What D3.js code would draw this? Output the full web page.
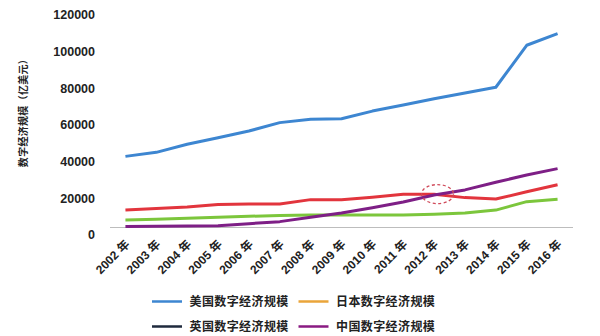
<!DOCTYPE html>
<html>
<head>
<meta charset="utf-8">
<script src="https://cdn.jsdelivr.net/npm/d3@7"></script>
<style>
  html, body { margin: 0; padding: 0; background: #fff; }
  svg { display: block; }
  text { font-family: "Liberation Sans", Arial, "Noto Sans CJK SC", sans-serif; }
  .cjk { font-family: "Noto Sans CJK SC", sans-serif; }
</style>
</head>
<body>
<svg id="chart" width="600" height="336"></svg>
<script>
// Digital economy size, 2002–2016 (100 million USD)
const years = ["2002 年", "2003 年", "2004 年", "2005 年", "2006 年", "2007 年", "2008 年",
               "2009 年", "2010 年", "2011 年", "2012 年", "2013 年", "2014 年", "2015 年", "2016 年"];
const usValues    = [38800, 41000, 45400, 49000, 52600, 57200, 59000, 59300, 63500, 66800, 70200, 73400, 76500, 99400, 105700];
const japanValues = [9500, 10400, 11200, 12600, 12800, 12800, 15200, 15200, 16500, 18100, 18100, 16300, 15500, 19500, 23300];
const ukValues    = [4100, 4500, 5000, 5600, 6100, 6600, 6800, 6800, 6800, 6800, 7200, 7900, 9500, 14100, 15400];
const chinaValues = [500, 700, 850, 1000, 2100, 3200, 5600, 7900, 10800, 13900, 17700, 20500, 24700, 28600, 32100];
const yTicks = [0, 20000, 40000, 60000, 80000, 100000, 120000];
const legendLabels = ["美国数字经济规模", "日本数字经济规模", "英国数字经济规模", "中国数字经济规模"];
const axisTitle = "数字经济规模（亿美元）";

const series = [
  { values: usValues,    line: "#3d86d1" },
  { values: japanValues, line: "#e2353d" },
  { values: ukValues,    line: "#7cc63c" },
  { values: chinaValues, line: "#7e1f86" }
];
const legendSwatches = ["#3d86d1", "#eaa53a", "#1f2a3d", "#8a1a82"];

const svg = d3.select("#chart");

const x = d3.scalePoint().domain(years).range([110, 573]).padding(0.5);
const y = d3.scaleLinear().domain([0, 120000]).range([227.5, 7.5]);

// y tick labels (no axis line, no gridlines)
svg.append("g")
  .selectAll("text")
  .data(yTicks)
  .join("text")
  .attr("x", 95)
  .attr("y", d => y(d) + 7.5)
  .attr("dy", "0.35em")
  .attr("text-anchor", "end")
  .attr("font-size", 12.5)
  .attr("font-weight", "bold")
  .attr("fill", "#222")
  .text(d => d);

// y axis title
svg.append("text")
  .attr("class", "cjk")
  .attr("transform", `translate(23, ${y(60000) - 7}) rotate(-90)`)
  .attr("text-anchor", "middle")
  .attr("dy", "0.35em")
  .attr("font-size", 10)
  .attr("font-weight", "bold")
  .attr("letter-spacing", 0.3)
  .attr("fill", "#222")
  .text(axisTitle);

// baseline
svg.append("line")
  .attr("x1", x.range()[0]).attr("x2", x.range()[1])
  .attr("y1", y(0)).attr("y2", y(0))
  .attr("stroke", "#bdbdbd")
  .attr("stroke-width", 1.2);

// rotated category labels
svg.append("g")
  .selectAll("text")
  .data(years)
  .join("text")
  .attr("transform", d => `translate(${x(d) + 2}, 242) rotate(-45)`)
  .attr("text-anchor", "end")
  .attr("dy", "0.35em")
  .attr("font-size", 12)
  .attr("font-weight", "bold")
  .attr("fill", "#222")
  .text(d => d);

// series lines
const line = d3.line()
  .x((d, i) => x(years[i]))
  .y(d => y(d));

svg.append("g")
  .selectAll("path")
  .data(series)
  .join("path")
  .attr("d", d => line(d.values))
  .attr("fill", "none")
  .attr("stroke", d => d.line)
  .attr("stroke-width", 3)
  .attr("stroke-linejoin", "round");

// dashed marker where China overtakes Japan
const step = x.step();
svg.append("ellipse")
  .attr("cx", x("2012 年") + step * 0.11)
  .attr("cy", y(18200))
  .attr("rx", 16)
  .attr("ry", 9.5)
  .attr("fill", "none")
  .attr("stroke", "#d04a5a")
  .attr("stroke-width", 1.3)
  .attr("stroke-dasharray", "3,2.5");

// legend, two rows of two
const legendPos = [[152, 301.5], [298.5, 301.5], [152, 326.5], [298.5, 326.5]];
const legend = svg.append("g")
  .selectAll("g")
  .data(legendLabels)
  .join("g")
  .attr("transform", (d, i) => `translate(${legendPos[i][0]}, ${legendPos[i][1]})`);

legend.append("line")
  .attr("x1", 0).attr("x2", 30)
  .attr("stroke", (d, i) => legendSwatches[i])
  .attr("stroke-width", 2.5);

legend.append("text")
  .attr("class", "cjk")
  .attr("x", 37.5)
  .attr("dy", "0.35em")
  .attr("font-size", 12)
  .attr("font-weight", "bold")
  .attr("letter-spacing", 0.4)
  .attr("fill", "#222")
  .text(d => d);
</script>
</body>
</html>
